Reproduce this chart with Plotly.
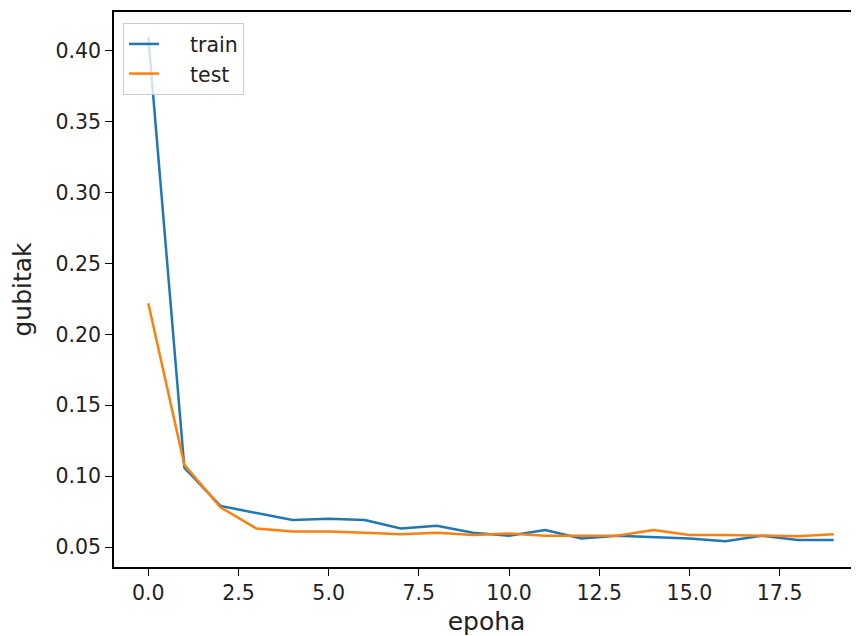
import plotly.graph_objects as go

# gubitak po epohi
epohe = list(range(20))
train = [0.410, 0.106, 0.079, 0.074, 0.069, 0.070, 0.069, 0.063, 0.065, 0.060,
         0.058, 0.062, 0.056, 0.058, 0.057, 0.056, 0.054, 0.058, 0.055, 0.055]
test = [0.222, 0.108, 0.078, 0.063, 0.061, 0.061, 0.060, 0.059, 0.060, 0.0585,
        0.0595, 0.058, 0.058, 0.058, 0.062, 0.0585, 0.0585, 0.058, 0.0576, 0.059]

font = dict(family="DejaVu Sans", size=20.5, color="#222222")
pad = "\u00a0" * 4  # razmak izmedju linije i teksta u legendi

fig = go.Figure()
fig.add_trace(go.Scatter(x=epohe, y=train, mode="lines", name=pad + "train",
                         line=dict(color="#1f77b4", width=2.5)))
fig.add_trace(go.Scatter(x=epohe, y=test, mode="lines", name=pad + "test",
                         line=dict(color="#ff7f0e", width=2.5)))

fig.update_xaxes(
    title_text="epoha", range=[-0.95, 19.7], automargin=False,
    tickvals=[0, 2.5, 5, 7.5, 10, 12.5, 15, 17.5],
    ticktext=["0.0", "2.5", "5.0", "7.5", "10.0", "12.5", "15.0", "17.5"],
    showline=True, linecolor="black", linewidth=1.5, mirror=True,
    ticks="outside", ticklen=7, tickwidth=1.3, tickcolor="black",
    showgrid=False, zeroline=False, title_standoff=16,
)
fig.update_yaxes(
    title_text="gubitak", range=[0.0359, 0.4275], automargin=False,
    tickvals=[0.05, 0.10, 0.15, 0.20, 0.25, 0.30, 0.35, 0.40],
    ticktext=["0.05", "0.10", "0.15", "0.20", "0.25", "0.30", "0.35", "0.40"],
    showline=True, linecolor="black", linewidth=1.5,
    ticks="outside", ticklen=7, tickwidth=1.3, tickcolor="black",
    showgrid=False, zeroline=False, title_standoff=22,
)
# stranica ima marginu od 8px, pa je figura za toliko manja
fig.update_layout(
    width=851, height=628,
    margin=dict(l=106, r=0, t=4, b=69),
    plot_bgcolor="white", paper_bgcolor="white",
    font=font,
    legend=dict(x=0.012, y=0.98, xanchor="left", yanchor="top",
                bgcolor="rgba(255,255,255,0.8)", bordercolor="#cccccc",
                borderwidth=1, font=font),
)
fig.write_html("out.html")
